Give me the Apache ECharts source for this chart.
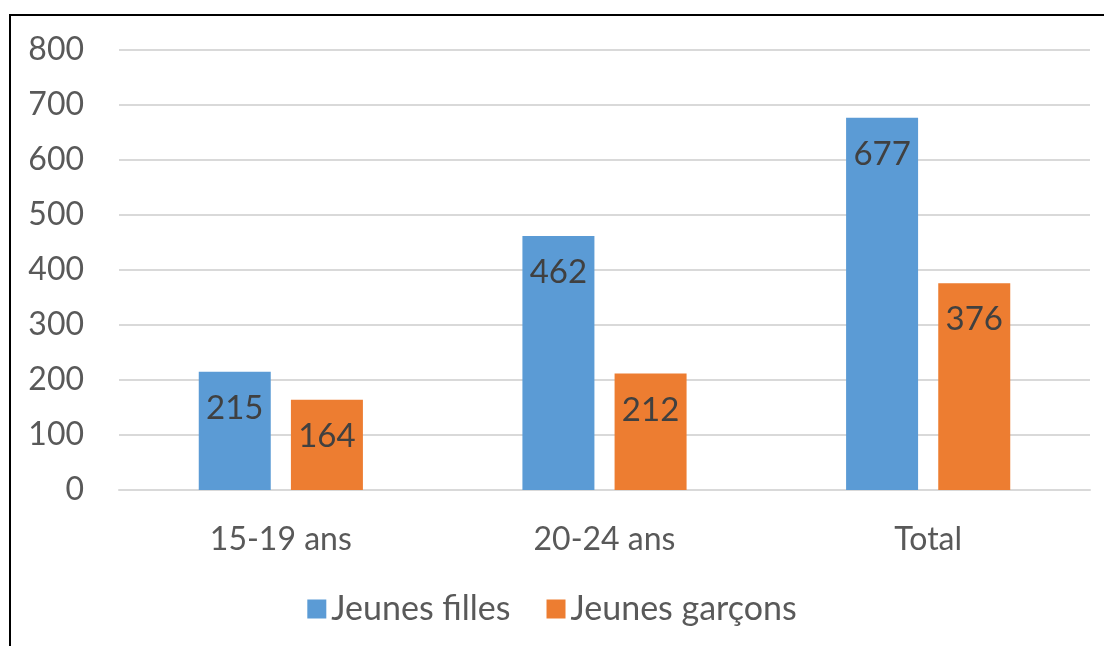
<!DOCTYPE html>
<html>
<head>
<meta charset="utf-8">
<script src="https://cdn.jsdelivr.net/npm/echarts@6/dist/echarts.min.js"></script>
<style>
  html, body { margin: 0; padding: 0; background: #fff; }
  #chart { width: 1104px; height: 646px; }
  .frame { position: absolute; left: 9px; top: 14px; width: 1200px; height: 700px;
           border-left: 2px solid #000; border-top: 2px solid #000; pointer-events: none; }
</style>
</head>
<body>
<div id="chart"></div>
<div class="frame"></div>
<script>
const categories = ['15-19 ans', '20-24 ans', 'Total']
const filles = [215, 462, 677]
const garcons = [164, 212, 376]
const yTicks = [0, 100, 200, 300, 400, 500, 600, 700, 800]

const font = 'Lato, "Noto Sans", sans-serif'

const chart = echarts.init(document.getElementById('chart'))

const barLabel = {
  show: true,
  position: 'insideTop',
  distance: 20,
  color: '#404040',
  fontSize: 33,
  fontFamily: font
}

chart.setOption({
  animation: false,
  grid: { left: 119, right: 14, top: 50, bottom: 156 },
  legend: {
    top: 587,
    left: 'center',
    itemWidth: 19,
    itemHeight: 19,
    itemGap: 36,
    itemTextGap: 9,
    icon: 'rect',
    textStyle: { color: '#595959', fontSize: 34, fontFamily: font },
    data: ['Jeunes filles', 'Jeunes garçons']
  },
  xAxis: {
    type: 'category',
    data: categories,
    axisLine: { lineStyle: { color: '#d9d9d9', width: 2 } },
    axisTick: { show: false },
    axisLabel: { color: '#595959', fontSize: 32, fontFamily: font, margin: 34 }
  },
  yAxis: {
    type: 'value',
    min: yTicks[0],
    max: yTicks[yTicks.length - 1],
    interval: 100,
    axisLine: { show: false },
    axisTick: { show: false },
    axisLabel: { color: '#595959', fontSize: 32, fontFamily: font, margin: 35 },
    splitLine: { lineStyle: { color: '#d9d9d9', width: 2 } }
  },
  series: [
    {
      name: 'Jeunes filles',
      type: 'bar',
      data: filles,
      barWidth: 72,
      barGap: '28%',
      itemStyle: { color: '#5b9bd5' },
      label: barLabel
    },
    {
      name: 'Jeunes garçons',
      type: 'bar',
      data: garcons,
      barWidth: 72,
      itemStyle: { color: '#ed7d31' },
      label: barLabel
    }
  ]
})
</script>
</body>
</html>
